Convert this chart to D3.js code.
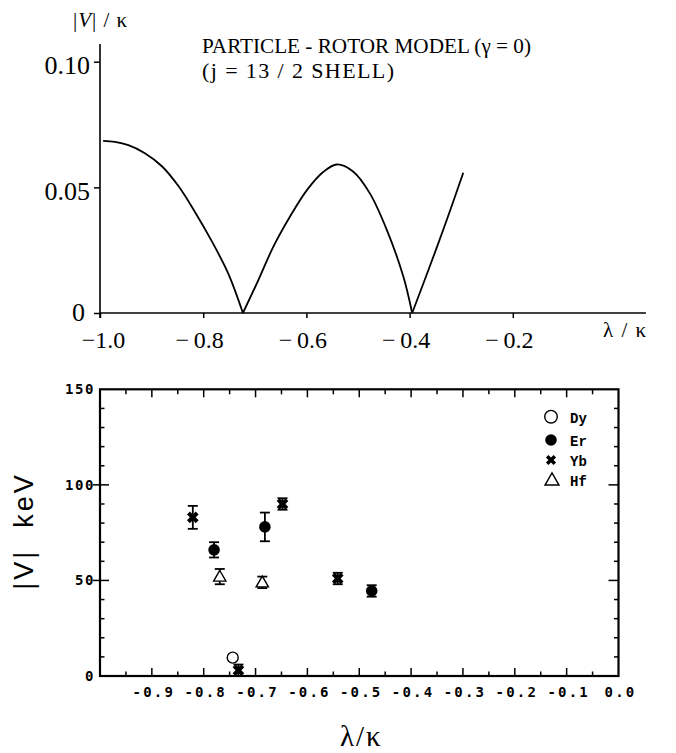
<!DOCTYPE html>
<html>
<head>
<meta charset="utf-8">
<script src="https://cdn.jsdelivr.net/npm/d3@7"></script>
<style>
  body { margin: 0; background: #fff; }
  svg { display: block; }
</style>
</head>
<body>
<div id="chart"></div>
<script>
var width = 676;
var height = 753;

// top panel: particle-rotor model curve
var curveLam = [-0.994, -0.971, -0.945, -0.913, -0.880, -0.848, -0.816, -0.784, -0.751, -0.723,
                -0.696, -0.664, -0.632, -0.599, -0.567, -0.541, -0.509, -0.477, -0.444, -0.412, -0.395,
                -0.361, -0.328, -0.296];
var curveV = [0.0685, 0.0681, 0.0668, 0.0636, 0.0584, 0.0505, 0.0402, 0.0288, 0.0155, 0,
              0.0118, 0.0264, 0.0383, 0.0489, 0.0562, 0.0591, 0.0562, 0.0476, 0.0330, 0.0144, 0,
              0.0185, 0.037, 0.0558];
var topXTicks = [-1.0, -0.8, -0.6, -0.4, -0.2];
var topXLabels = ["\u22121.0", "\u2212\u20090.8", "\u2212\u20090.6", "\u2212\u20090.4", "\u2212\u20090.2"];
var topYTicks = [0, 0.05, 0.10];
var topYLabels = ["0", "0.05", "0.10"];

// bottom panel: experimental |V| in keV
var dyLam = [-0.744];
var dyV = [9.6];
var erLam = [-0.780, -0.682, -0.476];
var erV = [66, 78, 44.5];
var erErr = [4, 7.5, 3];
var ybLam = [-0.821, -0.733, -0.648, -0.5415];
var ybV = [83, 3, 90, 51];
var ybErr = [6, 3, 3, 3];
var hfLam = [-0.769, -0.687];
var hfV = [52, 49];
var hfErr = [4, 3];
var botXTicks = [-0.9, -0.8, -0.7, -0.6, -0.5, -0.4, -0.3, -0.2, -0.1, 0.0];
var botYTicks = [0, 50, 100, 150];
var legendNames = ["Dy", "Er", "Yb", "Hf"];

var svg = d3.select('#chart').append('svg')
    .attr("width", width)
    .attr("height", height);

//---------------- top panel
var xTop = d3.scaleLinear().domain([-1, 0]).range([100, 616]);
var yTop = d3.scaleLinear().domain([0, 0.1]).range([313, 61.7]);

var topG = svg.append('g').attr("font-family", "Liberation Serif, Times New Roman, serif");

// axis lines
topG.append('line')
    .attr("x1", xTop(-1)).attr("x2", xTop(-1))
    .attr("y1", yTop(0.107)).attr("y2", yTop(0) + 5)
    .attr("stroke", "#000").attr("stroke-width", 1.6);
topG.append('line')
    .attr("x1", xTop(-1)).attr("x2", xTop(0.058))
    .attr("y1", yTop(0)).attr("y2", yTop(0))
    .attr("stroke", "#000").attr("stroke-width", 1.6);

var xAxisTop = d3.axisBottom(xTop)
    .tickValues(topXTicks)
    .tickSize(5)
    .tickFormat(function(d, i){ return topXLabels[i]; });
var gx = topG.append('g')
    .attr("transform", "translate(0," + yTop(0) + ")")
    .call(xAxisTop);
gx.select('.domain').remove();
gx.selectAll('line').attr("stroke-width", 1.5);
gx.selectAll('text')
    .attr("font-family", "Liberation Serif, serif")
    .attr("font-size", 24)
    .attr("y", 35).attr("dy", 0)
    .attr("dx", function(d){ return d === -1 ? 3 : -4; })
    .attr("fill", "#000");

var yAxisTop = d3.axisLeft(yTop)
    .tickValues(topYTicks)
    .tickSize(6)
    .tickFormat(function(d, i){ return topYLabels[i]; });
var gy = topG.append('g')
    .attr("transform", "translate(" + xTop(-1) + ",0)")
    .call(yAxisTop);
gy.select('.domain').remove();
gy.selectAll('line').attr("stroke-width", 1.5);
gy.selectAll('text')
    .attr("font-family", "Liberation Serif, serif")
    .attr("font-size", 26)
    .attr("x", function(d){ return d === 0 ? -15 : -10; })
    .attr("dy", function(d){ return d === 0 ? "0.28em" : "0.45em"; })
    .attr("fill", "#000");

// curve, split at the zeros so the cusps stay sharp
var pts = curveLam.map(function(l, i){ return [l, curveV[i]]; });
var segs = [[]];
pts.forEach(function(p, i){
    segs[segs.length - 1].push(p);
    if (p[1] === 0 && i > 0 && i < pts.length - 1) segs.push([p]);
});
var line = d3.line()
    .x(function(d){ return xTop(d[0]); })
    .y(function(d){ return yTop(d[1]); })
    .curve(d3.curveCatmullRom.alpha(0.5));
topG.selectAll('path.curve')
    .data(segs)
    .enter()
    .append('path')
    .attr("class", "curve")
    .attr("d", line)
    .attr("fill", "none")
    .attr("stroke", "#000")
    .attr("stroke-width", 1.8);

// labels
topG.append('text')
    .attr("x", 73).attr("y", 27)
    .attr("font-size", 21)
    .attr("letter-spacing", 1)
    .html('|<tspan font-style="italic">V</tspan>| / \u03ba');
topG.append('text')
    .attr("x", 603).attr("y", 337)
    .attr("font-size", 21)
    .attr("letter-spacing", 1.5)
    .text("\u03bb / \u03ba");
topG.append('text')
    .attr("x", 202).attr("y", 53)
    .attr("font-size", 22)
    .attr("textLength", 329)
    .attr("lengthAdjust", "spacingAndGlyphs")
    .text("PARTICLE - ROTOR MODEL (\u03b3 = 0)");
topG.append('text')
    .attr("x", 202).attr("y", 78)
    .attr("font-size", 22)
    .attr("textLength", 192)
    .attr("lengthAdjust", "spacing")
    .text("(j = 13 / 2 SHELL)");

//---------------- bottom panel
var xBot = d3.scaleLinear().domain([-1, 0]).range([100, 618.5]);
var yBot = d3.scaleLinear().domain([0, 150]).range([676, 389.3]);

var bot = svg.append('g');

// tick marks on all four sides
var xMinor = d3.range(1, 20).map(function(i){ return -1 + i * 0.05; });
var yMinor = d3.range(1, 15).map(function(i){ return i * 10; });

bot.selectAll('line.xt')
    .data(xMinor)
    .enter()
    .append('line')
    .attr("x1", function(d){ return xBot(d); })
    .attr("x2", function(d){ return xBot(d); })
    .attr("y1", yBot(0))
    .attr("y2", function(d, i){ return yBot(0) - (i % 2 === 1 ? 8 : 4.5); })
    .attr("stroke", "#000").attr("stroke-width", 1.5);
bot.selectAll('line.xtt')
    .data(xMinor)
    .enter()
    .append('line')
    .attr("x1", function(d){ return xBot(d); })
    .attr("x2", function(d){ return xBot(d); })
    .attr("y1", yBot(150))
    .attr("y2", function(d, i){ return yBot(150) + (i % 2 === 1 ? 8 : 5); })
    .attr("stroke", "#000").attr("stroke-width", 1.5);
bot.selectAll('line.yt')
    .data(yMinor)
    .enter()
    .append('line')
    .attr("x1", function(d){ return d % 50 === 0 ? xBot(-1) - 7 : xBot(-1); })
    .attr("x2", function(d){ return xBot(-1) + (d % 50 === 0 ? 9 : 4.5); })
    .attr("y1", function(d){ return yBot(d); })
    .attr("y2", function(d){ return yBot(d); })
    .attr("stroke", "#000").attr("stroke-width", 1.5);
bot.selectAll('line.ytr')
    .data(yMinor)
    .enter()
    .append('line')
    .attr("x1", xBot(0))
    .attr("x2", function(d){ return xBot(0) - (d % 50 === 0 ? 10 : 4.5); })
    .attr("y1", function(d){ return yBot(d); })
    .attr("y2", function(d){ return yBot(d); })
    .attr("stroke", "#000").attr("stroke-width", 1.5);

// frame
bot.append('rect')
    .attr("x", xBot(-1)).attr("y", yBot(150))
    .attr("width", xBot(0) - xBot(-1))
    .attr("height", yBot(0) - yBot(150))
    .attr("fill", "none")
    .attr("stroke", "#000").attr("stroke-width", 2.2);

// tick labels
bot.selectAll('text.xl')
    .data(botXTicks)
    .enter()
    .append('text')
    .attr("x", function(d){ return xBot(d) + 2; })
    .attr("y", 697)
    .attr("text-anchor", "middle")
    .attr("font-family", "DejaVu Sans Mono, monospace")
    .attr("font-size", 14)
    .attr("font-weight", "bold")
    .attr("letter-spacing", 2.2)
    .text(function(d){ return d3.format(".1f")(d).replace("\u2212", "-"); });
bot.selectAll('text.yl')
    .data(botYTicks)
    .enter()
    .append('text')
    .attr("x", 95)
    .attr("y", function(d){ return yBot(d); })
    .attr("dy", "0.36em")
    .attr("text-anchor", "end")
    .attr("font-family", "DejaVu Sans Mono, monospace")
    .attr("font-size", 14)
    .attr("font-weight", "bold")
    .attr("letter-spacing", 1.6)
    .text(function(d){ return d; });

// axis titles
bot.append('text')
    .attr("transform", "translate(33,531) rotate(-90)")
    .attr("text-anchor", "middle")
    .attr("font-family", "Liberation Sans, Arial, sans-serif")
    .attr("font-size", 27)
    .attr("letter-spacing", 3)
    .style("white-space", "pre")
    .text("|V|  keV");
bot.append('text')
    .attr("x", (xBot(-1) + xBot(0)) / 2 + 2)
    .attr("y", 746)
    .attr("text-anchor", "middle")
    .attr("font-family", "Liberation Serif, serif")
    .attr("font-size", 29)
    .attr("letter-spacing", 2)
    .text("\u03bb/\u03ba");

// error bars
function errBars(lam, v, err) {
    var g = bot.append('g').attr("stroke", "#000").attr("stroke-width", 1.8);
    lam.forEach(function(l, i){
        var x = xBot(l), y0 = yBot(v[i] - err[i]), y1 = yBot(v[i] + err[i]);
        g.append('line').attr("x1", x).attr("x2", x).attr("y1", y0).attr("y2", y1);
        g.append('line').attr("x1", x - 5).attr("x2", x + 5).attr("y1", y0).attr("y2", y0);
        g.append('line').attr("x1", x - 5).attr("x2", x + 5).attr("y1", y1).attr("y2", y1);
    });
}
errBars(erLam, erV, erErr);
errBars(ybLam, ybV, ybErr);
errBars(hfLam, hfV, hfErr);

function markDy(g, x, y, r) {
    g.append('circle').attr("cx", x).attr("cy", y).attr("r", r)
        .attr("fill", "#fff").attr("stroke", "#000").attr("stroke-width", 1.4);
}
function markEr(g, x, y, r) {
    g.append('circle').attr("cx", x).attr("cy", y).attr("r", r).attr("fill", "#000");
}
function markYb(g, x, y, s) {
    g.append('path').attr("d", d3.symbol().type(d3.symbolCross).size(s)())
        .attr("transform", "translate(" + x + "," + y + ") rotate(45)")
        .attr("fill", "#000");
}
function markHf(g, x, y, s) {
    g.append('path').attr("d", d3.symbol().type(d3.symbolTriangle).size(s)())
        .attr("transform", "translate(" + x + "," + (y + 1) + ")")
        .attr("fill", "#fff").attr("stroke", "#000").attr("stroke-width", 1.4);
}

var marks = bot.append('g');
dyLam.forEach(function(l, i){ markDy(marks, xBot(l), yBot(dyV[i]), 5.5); });
erLam.forEach(function(l, i){ markEr(marks, xBot(l), yBot(erV[i]), 5.8); });
ybLam.forEach(function(l, i){ markYb(marks, xBot(l), yBot(ybV[i]), 85); });
hfLam.forEach(function(l, i){ markHf(marks, xBot(l), yBot(hfV[i]), 66); });

// legend
var leg = bot.append('g');
var legY = [416.7, 440, 460, 480];
markDy(leg, 551, legY[0], 6.3);
markEr(leg, 551, legY[1], 5.8);
markYb(leg, 551, legY[2], 65);
markHf(leg, 552, legY[3], 85);
leg.selectAll('text')
    .data(legendNames)
    .enter()
    .append('text')
    .attr("x", 570)
    .attr("y", function(d, i){ return legY[i] + 6; })
    .attr("font-family", "Liberation Mono, Courier New, monospace")
    .attr("font-size", 14)
    .attr("font-weight", "bold")
    .text(function(d){ return d; });
</script>
</body>
</html>
